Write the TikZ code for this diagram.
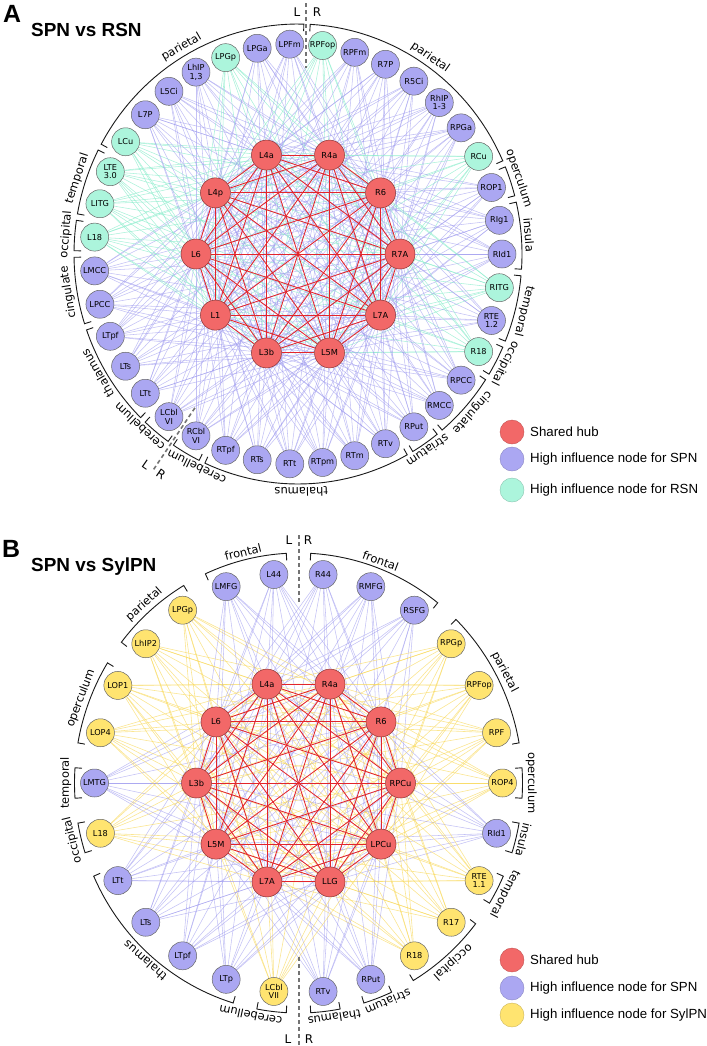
\documentclass[tikz,border=0pt]{standalone}
\usepackage{fontspec}
\setmainfont{DejaVu Sans}
\newfontfamily\arialfont{Liberation Sans}
\pgfdeclarelayer{bg}
\pgfdeclarelayer{mid}
\pgfsetlayers{bg,mid,main}
\definecolor{hubfill}{HTML}{F26868}
\definecolor{hubdraw}{HTML}{8C3434}
\definecolor{spnfill}{HTML}{ABA7F2}
\definecolor{rsnfill}{HTML}{ACF5DC}
\definecolor{sylfill}{HTML}{FFE470}
\definecolor{spnline}{HTML}{9C98EE}
\definecolor{rsnline}{HTML}{8EEDCD}
\definecolor{sylline}{HTML}{F8D858}
\definecolor{hubline}{HTML}{E3252B}
\tikzset{
  ring/.style={circle, draw=black!60, line width=0.5bp, minimum size=28bp, inner sep=0pt, align=center, font=\fontsize{8.2}{8.8}\selectfont},
  nodeS/.style={ring, fill=spnfill},
  nodeR/.style={ring, fill=rsnfill},
  nodeY/.style={ring, fill=sylfill},
  hub/.style={circle, draw=hubdraw, fill=hubfill, line width=0.5bp, minimum size=30bp, inner sep=0pt, font=\fontsize{8.3}{9}\selectfont},
  edgeS/.style={draw=spnline, line width=0.55bp, opacity=0.6},
  edgeR/.style={draw=rsnline, line width=0.55bp, opacity=0.75},
  edgeY/.style={draw=sylline, line width=0.6bp, opacity=0.65},
  hubedge/.style={draw=hubline, line width=0.85bp},
  bracket/.style={draw=black!90, line width=0.9bp},
  region/.style={font=\fontsize{11.5}{12}\selectfont, anchor=south, inner sep=1bp},
  lrline/.style={draw=black!55, line width=1.6bp, dash pattern=on 4bp off 3bp},
  lrtext/.style={font=\fontsize{12}{12}\selectfont, inner sep=0pt},
  legdot/.style={circle, minimum size=24bp, inner sep=0pt, line width=0.4bp},
  legtxt/.style={font=\arialfont\fontsize{13.3}{14}\selectfont, anchor=west, inner sep=0pt},
  paneltag/.style={font=\arialfont\bfseries\fontsize{25}{25}\selectfont, inner sep=0pt},
  paneltitle/.style={font=\arialfont\bfseries\fontsize{19}{20}\selectfont, anchor=west, inner sep=0pt},
}
\begin{document}
\begin{tikzpicture}[x=1bp,y=-1bp]
\useasboundingbox (0,0) rectangle (707,1046);

% ================= PANEL A =================
\node[paneltag] (tagA) at (12,14) {A};
\node[paneltitle] (titleA) at (31,30) {SPN vs RSN};

\foreach \j/\nm in {0/R7A,1/R6,2/R4a,3/L4a,4/L4p,5/L6,6/L1,7/L3b,8/L5M,9/L7A}
  \node[hub] (aH\j) at ({298+102*cos(36*\j)},{254-104*sin(36*\j)}) {\nm};

\begin{pgfonlayer}{mid}
\foreach \i in {0,...,8} {
  \pgfmathtruncatemacro\s{\i+1}
  \foreach \j in {\s,...,9} \draw[hubedge] (aH\i) -- (aH\j);
}
\end{pgfonlayer}

\foreach \k/\nm/\ty in {0/RPFop/R,1/RPFm/S,2/R7P/S,3/R5Ci/S,4/{RhIP\\1-3}/S,5/RPGa/S,6/RCu/R,7/ROP1/S,8/RIg1/S,9/RId1/S,10/RITG/R,11/{RTE\\1.2}/S,12/R18/R,13/RPCC/S,14/RMCC/S,15/RPut/S,16/RTv/S,17/RTm/S,18/RTpm/S,19/RTt/S,20/RTs/S,21/RTpf/S,22/{RCbl\\VI}/S,23/{LCbl\\VI}/S,24/LTt/S,25/LTs/S,26/LTpf/S,27/LPCC/S,28/LMCC/S,29/L18/R,30/LITG/R,31/{LTE\\3.0}/R,32/LCu/R,33/L7P/S,34/L5Ci/S,35/{LhIP\\1,3}/S,36/LPGp/R,37/LPGa/S,38/LPFm/S} {
  \pgfmathsetmacro\t{(9-\k)*360/39}
  \node[node\ty] (aO\k) at ({298+204*cos(\t)},{254-210*sin(\t)}) {\nm};
  \begin{pgfonlayer}{bg}
  \foreach \j in {0,...,9} \draw[edge\ty] (aO\k) -- (aH\j);
  \end{pgfonlayer}
}

\foreach \a/\b/\lab/\off in {0/6/parietal/0,7/7/operculum/0,8/9/insula/0,10/11/temporal/0,12/12/occipital/0.5,13/14/cingulate/0,15/15/striatum/-0.5,16/21/thalamus/-1.5,22/22/cerebellum/4,23/23/cerebellum/-4,24/26/thalamus/-2.2,27/28/cingulate/0,29/29/occipital/0,30/31/temporal/0,32/38/parietal/0} {
  \pgfmathsetmacro\ts{(9-\a)*360/39+3.8}
  \pgfmathsetmacro\te{(9-\b)*360/39-3.8}
  \pgfmathsetmacro\tm{(\ts+\te)/2+\off}
  \draw[bracket] ({298+217*cos(\ts)},{254-223*sin(\ts)}) -- plot[domain=\ts:\te, samples=30, variable=\x] ({298+224*cos(\x)},{254-230*sin(\x)}) -- ({298+217*cos(\te)},{254-223*sin(\te)});
  \node[region, rotate=\tm-90] (aG\a) at ({298+226*cos(\tm)},{254-232*sin(\tm)}) {\lab};
}

\draw[lrline] (306,3) -- (306,68);
\node[lrtext] (aLt) at (297,12) {L};
\node[lrtext] (aRt) at (317,12) {R};
\draw[lrline] ({298+0.89*204*cos(-124.6)},{254-0.89*210*sin(-124.6)}) -- ({298+1.25*204*cos(-124.6)},{254-1.25*210*sin(-124.6)});
\node[lrtext, rotate=-34.6] (aLb) at (146,465) {L};
\node[lrtext, rotate=-34.6] (aRb) at (161,474) {R};

\node[legdot, fill=hubfill, draw=hubfill!80!black] (aK1) at (512,432) {};
\node[legdot, fill=spnfill, draw=spnfill!80!black] (aK2) at (512,459) {};
\node[legdot, fill=rsnfill, draw=rsnfill!80!black] (aK3) at (512,490) {};
\node[legtxt] (aT1) at (530,432) {Shared hub};
\node[legtxt] (aT2) at (530,459) {High influence node for SPN};
\node[legtxt] (aT3) at (530,490) {High influence node for RSN};

% ================= PANEL B =================
\node[paneltag] (tagB) at (11,549) {B};
\node[paneltitle] (titleB) at (31,567) {SPN vs SylPN};

\foreach \j/\nm in {0/RPCu,1/R6,2/R4a,3/L4a,4/L6,5/L3b,6/L5M,7/L7A,8/LLG,9/LPCu}
  \node[hub] (bH\j) at ({298.5+102*cos(36*\j)},{783-104*sin(36*\j)}) {\nm};

\begin{pgfonlayer}{mid}
\foreach \i in {0,...,8} {
  \pgfmathtruncatemacro\s{\i+1}
  \foreach \j in {\s,...,9} \draw[hubedge] (bH\i) -- (bH\j);
}
\end{pgfonlayer}

\foreach \k/\nm/\ty in {0/R44/S,1/RMFG/S,2/RSFG/S,3/RPGp/Y,4/RPFop/Y,5/RPF/Y,6/ROP4/Y,7/RId1/S,8/{RTE\\1.1}/Y,9/R17/Y,10/R18/Y,11/RPut/S,12/RTv/S,13/{LCbl\\VII}/Y,14/LTp/S,15/LTpf/S,16/LTs/S,17/LTt/S,18/L18/Y,19/LMTG/S,20/LOP4/Y,21/LOP1/Y,22/LhIP2/Y,23/LPGp/Y,24/LMFG/S,25/L44/S} {
  \pgfmathsetmacro\t{(6-\k)*360/26}
  \node[node\ty] (bO\k) at ({298.5+204*cos(\t)},{783-210*sin(\t)}) {\nm};
  \begin{pgfonlayer}{bg}
  \foreach \j in {0,...,9} \draw[edge\ty] (bO\k) -- (bH\j);
  \end{pgfonlayer}
}

\foreach \a/\b/\lab/\off in {0/2/frontal/0,3/5/parietal/0,6/6/operculum/0,7/7/insula/0,8/8/temporal/0,9/10/occipital/0,11/11/striatum/2,12/12/thalamus/2,13/13/cerebellum/-5,14/17/thalamus/0,18/18/occipital/0,19/19/temporal/0,20/21/operculum/0,22/23/parietal/0,24/25/frontal/0} {
  \pgfmathsetmacro\ts{(6-\a)*360/26+3.8}
  \pgfmathsetmacro\te{(6-\b)*360/26-3.8}
  \pgfmathsetmacro\tm{(\ts+\te)/2+\off}
  \draw[bracket] ({298.5+217*cos(\ts)},{783-223*sin(\ts)}) -- plot[domain=\ts:\te, samples=30, variable=\x] ({298.5+224*cos(\x)},{783-230*sin(\x)}) -- ({298.5+217*cos(\te)},{783-223*sin(\te)});
  \node[region, rotate=\tm-90] (bG\a) at ({298.5+226*cos(\tm)},{783-232*sin(\tm)}) {\lab};
}

\draw[lrline] (299,535) -- (299,603);
\node[lrtext] (bLt) at (289,540) {L};
\node[lrtext] (bRt) at (308,540) {R};
\draw[lrline] (299,957) -- (299,1046);
\node[lrtext] (bLb) at (288,1039) {L};
\node[lrtext] (bRb) at (309,1039) {R};

\node[legdot, fill=hubfill, draw=hubfill!80!black] (bK1) at (512,960) {};
\node[legdot, fill=spnfill, draw=spnfill!80!black] (bK2) at (512,988) {};
\node[legdot, fill=sylfill, draw=sylfill!80!black] (bK3) at (512,1015) {};
\node[legtxt] (bT1) at (530,960) {Shared hub};
\node[legtxt] (bT2) at (530,988) {High influence node for SPN};
\node[legtxt] (bT3) at (530,1015) {High influence node for SylPN};
\end{tikzpicture}
\end{document}
